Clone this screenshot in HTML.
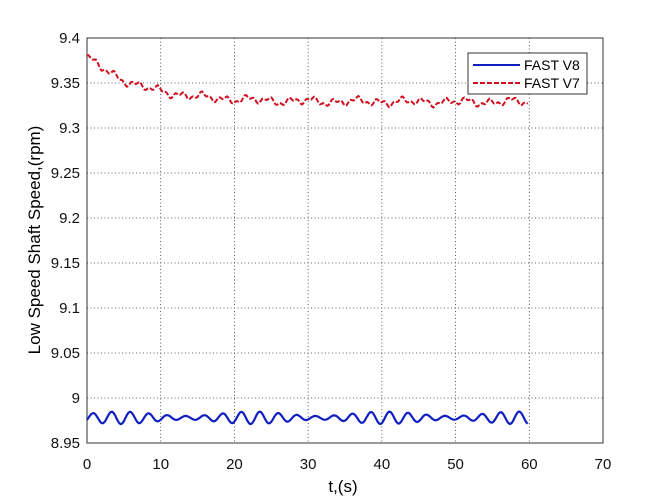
<!DOCTYPE html>
<html><head><style>body{margin:0;background:#fff}svg{display:block}</style></head>
<body>
<svg id="s" width="666" height="500" xmlns="http://www.w3.org/2000/svg" font-family="Liberation Sans, sans-serif">
<rect width="666" height="500" fill="#fff"/>
<g id="grid" stroke="#333" stroke-width="0.8" stroke-dasharray="1,2.5"></g>
<g id="lbl" font-size="15" fill="#111"></g>
<rect x="87" y="38" width="516" height="405" fill="none" stroke="#333" stroke-width="1"/>
<polyline id="red" fill="none" stroke="#d01020" stroke-width="2" stroke-dasharray="5,2"/>
<polyline id="blue" fill="none" stroke="#1020c0" stroke-width="2.2"/>
<rect x="468" y="53" width="119" height="41" fill="#fff" stroke="#333" stroke-width="1"/>
<line x1="473" y1="65" x2="520" y2="65" stroke="#1020c0" stroke-width="2"/>
<line x1="473" y1="83" x2="520" y2="83" stroke="#d01020" stroke-width="2" stroke-dasharray="5,2"/>
<text x="524" y="70" font-size="14">FAST V8</text>
<text x="524" y="88" font-size="14">FAST V7</text>
<text x="343" y="492" font-size="17" text-anchor="middle">t,(s)</text>
<text transform="translate(40,240) rotate(-90)" font-size="17" text-anchor="middle">Low Speed Shaft Speed,(rpm)</text>
</svg>
<script>
var X=v=>87+v*516/70, Y=v=>443-(v-8.95)*405/0.45;
var g=document.getElementById('grid'),l=document.getElementById('lbl'),ns='http://www.w3.org/2000/svg';
function el(p,t,a,txt){var e=document.createElementNS(ns,t);for(var k in a)e.setAttribute(k,a[k]);if(txt!=null)e.textContent=txt;p.appendChild(e);}
for(var i=0;i<=7;i++){var x=X(i*10);if(i>0&&i<7)el(g,'line',{x1:x,y1:38,x2:x,y2:443});el(l,'text',{x:x,y:469,'text-anchor':'middle'},i*10);}
for(var j=0;j<=9;j++){var v=8.95+j*0.05,y=Y(v);if(j>0&&j<9)el(g,'line',{x1:87,y1:y,x2:603,y2:y});
var s=(Math.round(v*100)/100).toString();el(l,'text',{x:80,y:y+5,'text-anchor':'end'},s);}
var r=[],b=[];
for(var t=0;t<=60;t+=0.2){
var rv=9.329+0.05*Math.exp(-t/7)+0.003*Math.sin(t*2.1)+0.002*Math.sin(t*5.3+1)+0.0015*Math.sin(t*0.9);
r.push(X(t).toFixed(1)+','+Y(rv).toFixed(1));
var bv=8.978+0.007*Math.sin(t*2.5-0.5)*(0.65+0.35*Math.sin(t*0.35));
b.push(X(t).toFixed(1)+','+Y(bv).toFixed(1));}
document.getElementById('red').setAttribute('points',r.join(' '));
document.getElementById('blue').setAttribute('points',b.join(' '));
</script>
</body></html>
